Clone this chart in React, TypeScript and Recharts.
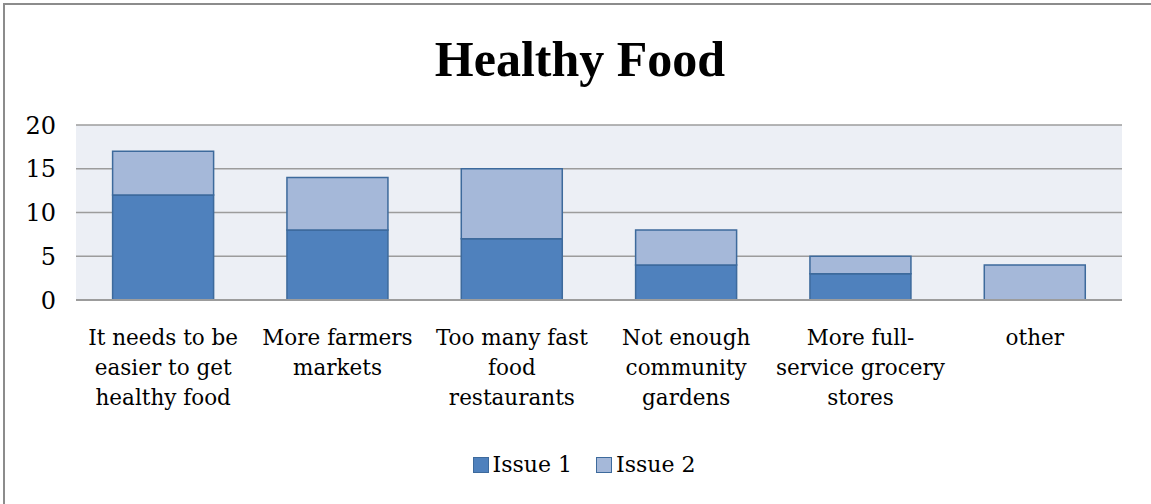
import React from "react"
import { Bar, BarChart, XAxis, YAxis, CartesianGrid, Legend } from "recharts"

const categoryLines = [
  ["It needs to be", "easier to get", "healthy food"],
  ["More farmers", "markets"],
  ["Too many fast", "food", "restaurants"],
  ["Not enough", "community", "gardens"],
  ["More full-", "service grocery", "stores"],
  ["other"],
]
const categories = categoryLines.map((l) => l.join("\n"))
const issue1 = [12, 8, 7, 4, 3, 0]
const issue2 = [5, 6, 8, 4, 2, 4]
const yTicks = [0, 5, 10, 15, 20]

const data = categories.map((c, i) => ({ name: c, issue1: issue1[i], issue2: issue2[i] }))

const FONT = "'DejaVu Serif', 'Liberation Serif', serif"
const TITLE_FONT = "'Liberation Serif', serif"

const CategoryTick = (props: any) => {
  const { x, y, payload } = props
  const lines = String(payload.value).split("\n")
  return (
    <g transform={`translate(${x},${y})`}>
      {lines.map((ln, i) => (
        <text key={i} x={0} y={37 + i * 30} textAnchor="middle" fill="#000" fontSize={21.5} fontFamily={FONT}>
          {ln}
        </text>
      ))}
    </g>
  )
}

const LegendContent = () => {
  const items = [
    { label: "Issue 1", color: "#4f81bd" },
    { label: "Issue 2", color: "#a5b8d9" },
  ]
  return (
    <div
      style={{
        display: "flex",
        justifyContent: "center",
        gap: 24,
        paddingLeft: 20,
        fontFamily: FONT,
        fontSize: 22,
        color: "#000",
      }}
    >
      {items.map((it) => (
        <div key={it.label} style={{ display: "flex", alignItems: "center" }}>
          <span
            style={{
              display: "inline-block",
              width: 14,
              height: 14,
              background: it.color,
              border: "1.5px solid #3d6a9c",
              marginRight: 4,
            }}
          />
          <span>{it.label}</span>
        </div>
      ))}
    </div>
  )
}

export default function App() {
  return (
    <div style={{ position: "absolute", left: 0, top: 0, width: 1151, height: 504, background: "#fff" }}>
      <div
        style={{
          position: "absolute",
          left: 3,
          top: 3,
          width: 1160,
          height: 520,
          borderTop: "2px solid #8c8c8c",
          borderLeft: "2px solid #8c8c8c",
        }}
      />
      <div
        style={{
          position: "absolute",
          left: 0,
          top: 30,
          width: 1160,
          textAlign: "center",
          fontFamily: TITLE_FONT,
          fontWeight: "bold",
          fontSize: 50,
          color: "#000",
        }}
      >
        Healthy Food
      </div>
      <div style={{ position: "absolute", left: 0, top: 0 }}>
        <BarChart
          width={1151}
          height={504}
          data={data}
          barCategoryGap="21%"
          margin={{ top: 125, right: 29, left: 26, bottom: 8 }}
        >
          <CartesianGrid vertical={false} stroke="#9c9c9c" strokeWidth={1.5} fill="#eceff5" />
          <XAxis
            dataKey="name"
            tick={<CategoryTick />}
            tickLine={false}
            axisLine={{ stroke: "#9c9c9c", strokeWidth: 2 }}
            height={152}
            interval={0}
          />
          <YAxis
            width={50}
            domain={[0, 20]}
            ticks={yTicks}
            tickLine={false}
            axisLine={false}
            tickSize={0}
            tickMargin={20}
            tick={{ fill: "#000", fontSize: 24, fontFamily: FONT }}
          />
          <Legend verticalAlign="bottom" height={44} content={<LegendContent />} />
          <Bar dataKey="issue1" name="Issue 1" stackId="a" fill="#4f81bd" stroke="#3d6a9c" strokeWidth={1.5} isAnimationActive={false} />
          <Bar dataKey="issue2" name="Issue 2" stackId="a" fill="#a5b8d9" stroke="#3d6a9c" strokeWidth={1.5} isAnimationActive={false} />
        </BarChart>
      </div>
    </div>
  )
}
